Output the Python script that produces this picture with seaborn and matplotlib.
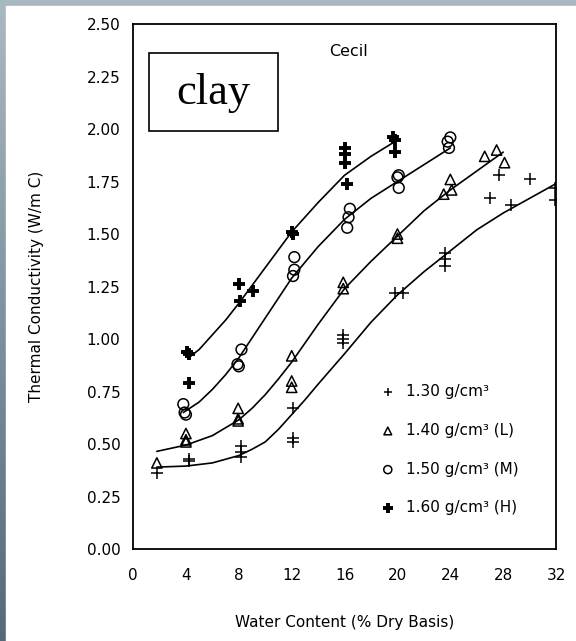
import numpy as np
import matplotlib
matplotlib.use('Agg')
import matplotlib.pyplot as plt
import seaborn as sns
from matplotlib.colors import LinearSegmentedColormap
from matplotlib.patches import Rectangle

# measured points, water content (%) vs thermal conductivity (W/m C)
x130 = [1.8, 4.2, 4.2, 8.2, 8.2, 8.2, 12.1, 12.1, 12.1, 15.9, 15.9, 15.9,
        19.8, 20.4, 23.6, 23.6, 23.6, 27.0, 27.7, 28.6, 30.0, 31.9, 31.9]
y130 = [0.36, 0.43, 0.42, 0.49, 0.46, 0.44, 0.67, 0.53, 0.51, 1.02, 1.00, 0.98,
        1.22, 1.22, 1.41, 1.38, 1.35, 1.67, 1.78, 1.64, 1.76, 1.72, 1.66]

x140 = [1.8, 4.0, 4.0, 4.0, 7.95, 7.95, 7.95, 12.0, 12.0, 12.0, 15.9, 15.9,
        20.0, 20.0, 23.5, 24.0, 24.1, 26.6, 27.5, 28.1]
y140 = [0.41, 0.55, 0.52, 0.51, 0.67, 0.62, 0.61, 0.92, 0.80, 0.77, 1.27, 1.24,
        1.50, 1.48, 1.69, 1.76, 1.71, 1.87, 1.90, 1.84]

x150 = [3.8, 3.9, 4.0, 8.2, 7.9, 8.0, 12.2, 12.2, 12.1, 16.4, 16.3, 16.2,
        20.1, 20.0, 20.1, 24.0, 23.8, 23.9]
y150 = [0.69, 0.65, 0.64, 0.95, 0.88, 0.87, 1.39, 1.33, 1.30, 1.62, 1.58, 1.53,
        1.78, 1.77, 1.72, 1.96, 1.94, 1.91]

x160 = [4.1, 4.2, 4.2, 8.0, 8.1, 9.1, 12.0, 12.1, 16.0, 16.0, 16.0, 16.2,
        19.7, 19.8, 19.8]
y160 = [0.94, 0.93, 0.79, 1.26, 1.18, 1.23, 1.51, 1.50, 1.91, 1.88, 1.84, 1.74,
        1.96, 1.95, 1.89]

# fitted curves
c130_x = [1.8, 4, 6, 8, 9, 10, 11, 12, 13, 14, 16, 18, 20, 22, 24, 26, 28, 30, 32]
c130_y = [0.39, 0.395, 0.41, 0.445, 0.475, 0.51, 0.57, 0.64, 0.71, 0.785, 0.93,
          1.08, 1.21, 1.32, 1.42, 1.52, 1.60, 1.67, 1.74]
c140_x = [1.8, 4, 6, 8, 9, 10, 11, 12, 14, 16, 18, 20, 22, 24, 26, 28]
c140_y = [0.465, 0.495, 0.54, 0.615, 0.67, 0.735, 0.81, 0.89, 1.07, 1.24, 1.37,
          1.49, 1.61, 1.71, 1.80, 1.89]
c150_x = [3.8, 5, 6, 7, 8, 10, 12, 14, 16, 18, 20, 22, 24]
c150_y = [0.65, 0.70, 0.76, 0.83, 0.91, 1.10, 1.29, 1.44, 1.57, 1.67, 1.75, 1.83, 1.91]
c160_x = [4.2, 5, 6, 7, 8, 10, 12, 14, 16, 18, 19.8]
c160_y = [0.91, 0.95, 1.02, 1.09, 1.17, 1.34, 1.51, 1.65, 1.78, 1.87, 1.94]

labels = ['1.30 g/cm³', '1.40 g/cm³ (L)', '1.50 g/cm³ (M)', '1.60 g/cm³ (H)']
xticks = [0, 4, 8, 12, 16, 20, 24, 28, 32]
yticks = [0.00, 0.25, 0.50, 0.75, 1.00, 1.25, 1.50, 1.75, 2.00, 2.25, 2.50]

sns.set_style('white')
plt.rcParams['font.family'] = ['DejaVu Sans']
plt.rcParams['text.color'] = 'black'
plt.rcParams['axes.labelcolor'] = 'black'

fig = plt.figure(figsize=(5.76, 6.41), dpi=100)

# slide background (grey-blue band on top and left)
bg = fig.add_axes([0, 0, 1, 1], zorder=-10)
cmap = LinearSegmentedColormap.from_list('slide', ['#a9b9c4', '#56697a'])
bg.imshow(np.linspace(0, 1, 256).reshape(-1, 1), cmap=cmap, aspect='auto',
          extent=[0, 1, 0, 1])
bg.add_patch(Rectangle((6 / 576, 0), 1, 1 - 6 / 641, color='white'))
bg.set_xlim(0, 1)
bg.set_ylim(0, 1)
bg.axis('off')

ax = fig.add_axes([0.231, 0.1435, 0.7344, 0.819])
ax.set_facecolor('white')

for cx, cy in [(c130_x, c130_y), (c140_x, c140_y), (c150_x, c150_y), (c160_x, c160_y)]:
    sns.lineplot(x=cx, y=cy, color='black', linewidth=1.2, sort=False,
                 estimator=None, ax=ax)

sns.scatterplot(x=x130, y=y130, marker='+', color='black', s=70, linewidth=1.1,
                ax=ax, label=labels[0])
sns.scatterplot(x=x140, y=y140, marker='^', facecolor='none', edgecolor='black',
                s=55, linewidth=1.1, ax=ax, label=labels[1])
sns.scatterplot(x=x150, y=y150, marker='o', facecolor='none', edgecolor='black',
                s=60, linewidth=1.1, ax=ax, label=labels[2])
sns.scatterplot(x=x160, y=y160, marker='+', color='black', s=75, linewidth=2.8,
                ax=ax, label=labels[3])

ax.set_xlim(0, 32)
ax.set_ylim(0, 2.5)
ax.set_xticks(xticks)
ax.set_yticks(yticks)
ax.set_yticklabels([f'{v:.2f}' for v in yticks])
ax.tick_params(axis='both', direction='in', length=7, width=1, labelsize=11,
               colors='black')
ax.tick_params(axis='x', pad=14)
ax.tick_params(axis='y', pad=9)
for sp in ax.spines.values():
    sp.set_color('black')
    sp.set_linewidth(1.3)

ax.set_xlabel('Water Content (% Dry Basis)', fontsize=11)
ax.set_ylabel('Thermal Conductivity (W/m C)', fontsize=11)
ax.xaxis.set_label_coords(0.5, -0.126)
ax.yaxis.set_label_coords(-0.21, 0.5)

ax.text(16.3, 2.37, 'Cecil', ha='center', va='center', fontsize=11.5)

# "clay" box
ax.add_patch(Rectangle((0.038, 0.796), 0.305, 0.149, transform=ax.transAxes,
                       facecolor='white', edgecolor='black', linewidth=1.2, zorder=5))
ax.text(0.19, 0.868, 'clay', transform=ax.transAxes, ha='center', va='center',
        fontsize=32, family=['Liberation Serif'], zorder=6)

handles, labs = ax.get_legend_handles_labels()
keep = [i for i, l in enumerate(labs) if l in labels]
ax.legend([handles[i] for i in keep], [labs[i] for i in keep],
          loc='upper left', bbox_to_anchor=(0.548, 0.34), frameon=False,
          fontsize=11, markerscale=0.75, labelspacing=1.55, handletextpad=0.6,
          handlelength=1.2)

fig.savefig('out.png', dpi=100)
